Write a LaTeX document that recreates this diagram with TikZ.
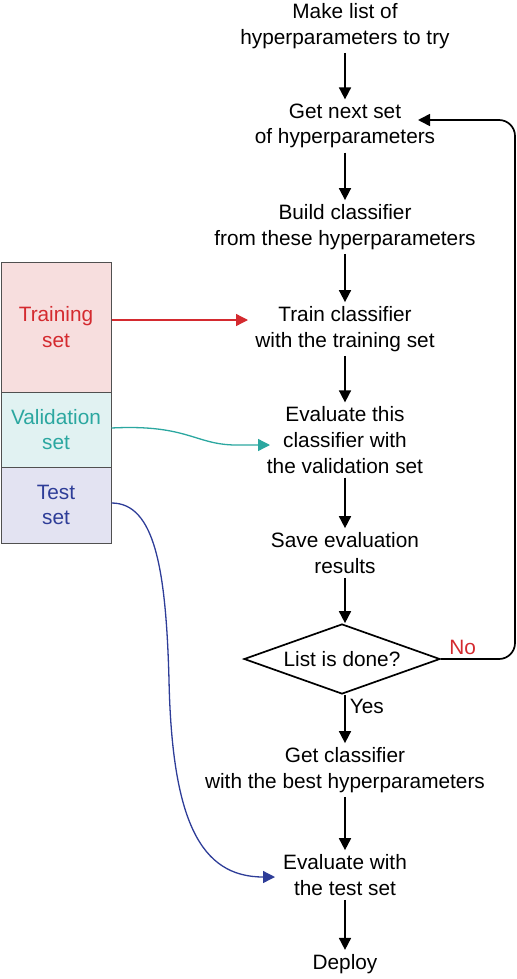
\documentclass[tikz,border=0pt]{standalone}
\usepackage{fontspec}
\setmainfont{Liberation Sans}
\definecolor{trainred}{HTML}{D42A2F}
\definecolor{trainfill}{HTML}{F7DEDE}
\definecolor{valteal}{HTML}{2BA7A0}
\definecolor{valfill}{HTML}{E1F2F2}
\definecolor{testblue}{HTML}{2E3D98}
\definecolor{testfill}{HTML}{E3E3F2}
\definecolor{boxgray}{HTML}{505050}
\usetikzlibrary{arrows.meta,positioning,shapes.geometric}

\begin{document}
\begin{tikzpicture}[
        x=0.5pt, y=-0.5pt,
        every node/.style={font=\fontsize{10.4}{12.8}\selectfont, align=center, inner sep=2pt},
        proc/.style={},
        split/.style={draw=boxgray, line width=0.5pt, minimum width=55pt, text width=51pt},
        decision/.style={draw, diamond, aspect=3, line width=0.85pt, inner sep=0pt, minimum width=98pt, minimum height=35pt},
        flow/.style={line width=0.85pt, -{Triangle[length=6pt,width=6pt]}},
        link/.style={line width=0.65pt, -{Triangle[length=6pt,width=6pt]}}
      ]
      \useasboundingbox (0,0) rectangle (517,979);
      \node[proc] (makelist) at (345,26) {Make list of\\hyperparameters to try};
      \node[proc] (getnext) at (345,126) {Get next set\\of hyperparameters};
      \node[proc] (build) at (345,227) {Build classifier\\from these hyperparameters};
      \node[proc] (train) at (345,329) {Train classifier\\with the training set};
      \node[proc] (evalval) at (345,440) {Evaluate this\\classifier with\\the validation set};
      \node[proc] (save) at (345,553) {Save evaluation\\results};
      \node[decision] (done) at (342,659) {List is done?};
      \node[proc] (getbest) at (345,770) {Get classifier\\with the best hyperparameters};
      \node[proc] (evaltest) at (345,875) {Evaluate with\\the test set};
      \node[proc] (deploy) at (345,964) {Deploy};

      \node[split, fill=trainfill, text=trainred, minimum height=65pt] (trainset) at (56,327) {Training\\set};
      \node[split, fill=valfill, text=valteal, minimum height=37.5pt] (valset) at (56,429.5) {Validation\\set};
      \node[split, fill=testfill, text=testblue, minimum height=38pt] (testset) at (56,505) {Test\\set};

      \draw[flow] (makelist) -- (getnext);
      \draw[flow] (getnext) -- (build);
      \draw[flow] (build) -- (train);
      \draw[flow] (train) -- (evalval);
      \draw[flow] (evalval) -- (save);
      \draw[flow] (save) -- (save |- done.north);
      \draw[flow] (done.south -| getbest) -- node[right, pos=0.25] {Yes} (getbest);
      \draw[flow] (getbest) -- (evaltest);
      \draw[flow] (evaltest) -- (deploy);

      \coordinate (loopin) at (418,120);
      \draw[flow, rounded corners=8pt] (done.east) -- (done.east -| 515,0) |- (loopin);
      \node[text=trainred, anchor=south west] (no) at ([xshift=2pt]done.east) {No};

      \coordinate (trainin) at (248,320);
      \coordinate (valin) at (270,445);
      \coordinate (testin) at (275,877);
      \draw[link, trainred] (trainset.east |- trainin) -- (trainin);
      \draw[link, valteal] (valset.east |- 0,428) .. controls (190,424) and (195,446) .. (240,445) -- (valin);
      \draw[link, testblue] (testset.east |- 0,503) .. controls (155,503) and (166,570) .. (169,680)
        .. controls (172,820) and (200,877) .. (testin);
    \end{tikzpicture}
\end{document}
